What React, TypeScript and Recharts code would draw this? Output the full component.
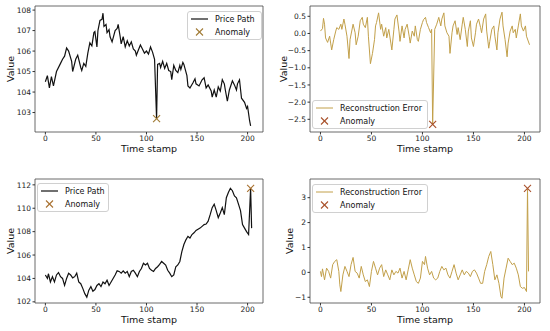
import React from 'react';
import { ComposedChart, Line, Scatter, XAxis, YAxis, ReferenceArea, Legend, Label } from 'recharts';

const timeTicks = [0, 50, 100, 150, 200];
const timeDomain: [number, number] = [-10.25, 215.25];

// top left: price path (drop anomaly)
const timeA = [0, 2, 4, 6, 8, 11, 15, 17, 19, 21,
  23, 26, 27, 30, 32, 35, 36, 38, 40, 42,
  44, 46, 48, 49, 51, 52, 54, 56, 57, 58,
  60, 61, 63, 64, 66, 69, 71, 72, 74, 75,
  77, 79, 81, 83, 85, 87, 89, 90, 92, 94,
  96, 98, 100, 102, 104, 106, 108, 110, 111, 113,
  114, 116, 118, 120, 122, 124, 125, 127, 129, 131,
  133, 134, 136, 137, 140, 141, 143, 146, 148, 149,
  152, 155, 157, 159, 161, 164, 165, 167, 169, 171,
  173, 175, 177, 178, 180, 182, 185, 187, 189, 190,
  192, 194, 197, 199, 200, 202, 203];
const priceA = [104.5, 104.8, 104.2, 104.75, 104.3, 105.0, 105.4, 105.6, 105.75, 106.15,
  106.0, 105.5, 105.0, 105.6, 105.8, 105.2, 105.05, 105.4, 105.25, 105.9,
  106.4, 106.25, 106.9, 106.95, 106.2, 107.0, 107.5, 107.55, 107.85, 107.2,
  107.3, 106.9, 107.05, 106.7, 106.45, 107.0, 107.1, 107.3, 106.7, 106.35,
  106.7, 106.2, 106.5, 106.25, 106.45, 106.1, 106.0, 105.8, 106.05, 106.3,
  106.1, 105.9, 106.0, 105.85, 106.2, 105.95, 105.6, 102.7, 105.35, 105.4,
  105.2, 105.5, 105.15, 105.4, 105.05, 105.0, 104.6, 105.3, 105.05, 104.95,
  105.3, 105.1, 105.45, 105.35, 104.8, 104.3, 104.2, 104.45, 104.65, 104.4,
  104.3, 104.6, 104.7, 104.2, 104.35, 104.05, 103.75, 104.1, 103.75, 104.25,
  104.05, 104.6, 104.4, 104.1, 103.55, 104.1, 104.55, 104.35, 104.1, 104.4,
  104.6, 103.7, 103.5, 103.2, 103.3, 102.6, 102.35];
const anomalyA = [{ t: 110, v: 102.7 }];
const yTicksA = [103, 104, 105, 106, 107, 108];

// top right: reconstruction error
const timeB = [0, 2, 3, 4, 5, 7, 9, 10, 11, 13,
  15, 16, 18, 20, 21, 23, 24, 26, 28, 29,
  32, 34, 35, 37, 39, 41, 42, 44, 46, 47,
  49, 51, 53, 54, 55, 57, 59, 60, 62, 64,
  65, 67, 69, 70, 72, 73, 75, 77, 78, 80,
  82, 83, 85, 87, 88, 90, 92, 93, 95, 96,
  98, 100, 101, 103, 104, 106, 108, 109, 110, 112,
  114, 116, 118, 119, 121, 122, 124, 126, 127, 129,
  130, 132, 134, 135, 137, 139, 140, 142, 144, 145,
  147, 148, 150, 152, 153, 155, 157, 158, 160, 162,
  163, 165, 166, 168, 170, 171, 173, 174, 176, 178,
  179, 181, 183, 184, 186, 188, 189, 191, 192, 194,
  196, 197, 199, 201, 202, 205];
const errorB = [0.07, 0.14, 0.44, 0.27, -0.13, -0.26, -0.08, -0.28, -0.48, -0.18,
  0.07, 0.17, 0.12, 0.27, 0.12, 0.42, 0.27, -0.08, -0.73, -0.18,
  0.27, 0.02, -0.33, -0.08, 0.37, 0.47, 0.27, 0.17, 0.47, -0.08,
  -0.88, -0.58, -0.18, 0.22, 0.32, 0.6, 0.12, 0.27, -0.08, 0.17,
  -0.13, 0.12, -0.28, -0.48, 0.12, 0.42, 0.54, 0.07, -0.23, 0.22,
  -0.13, 0.12, 0.27, -0.08, -0.28, 0.07, -0.08, 0.22, -0.18, -0.23,
  0.12, 0.32, 0.4, 0.47, 0.32, 0.17, 0.02, 0.12, -2.65, 0.12,
  0.27, 0.47, 0.22, 0.42, 0.6, 0.22, 0.02, -0.08, -0.58, 0.02,
  0.22, 0.37, -0.03, 0.17, -0.18, 0.27, 0.47, 0.12, -0.38, 0.07,
  0.37, -0.13, -0.38, 0.02, 0.27, 0.42, 0.17, 0.02, 0.42, 0.57,
  0.07, -0.43, -0.23, 0.12, 0.22, -0.08, -0.48, 0.02, 0.42, 0.62,
  0.22, -0.18, -0.68, -0.28, 0.07, 0.22, 0.02, 0.12, -0.13, 0.22,
  0.57, 0.22, 0.07, 0.22, -0.08, -0.33];
const anomalyB = [{ t: 110, v: -2.65 }];
const yTicksB = [-2.5, -2, -1.5, -1, -0.5, 0, 0.5];

// bottom left: price path (spike anomaly at the end)
const timeC = [0, 2, 3, 5, 7, 9, 11, 13, 15, 17,
  19, 21, 23, 25, 27, 29, 31, 33, 35, 37,
  39, 41, 43, 45, 47, 49, 51, 53, 55, 57,
  59, 61, 63, 65, 67, 69, 71, 73, 75, 77,
  79, 81, 83, 85, 87, 89, 91, 93, 95, 97,
  99, 101, 103, 105, 107, 109, 111, 113, 115, 117,
  119, 121, 123, 125, 127, 129, 131, 133, 135, 137,
  139, 141, 143, 145, 147, 149, 151, 153, 155, 157,
  159, 161, 163, 165, 167, 169, 171, 173, 175, 177,
  179, 181, 183, 185, 187, 189, 191, 193, 195, 197,
  199, 201, 203, 204];
const priceC = [104.29, 104.0, 104.4, 103.7, 104.15, 103.7, 104.3, 104.5, 104.15, 104.0,
  103.4, 104.0, 104.45, 104.3, 104.05, 104.15, 104.45, 103.7, 103.55, 103.15,
  102.7, 102.4, 103.0, 103.3, 102.9, 103.05, 103.4, 103.55, 103.3, 103.7,
  103.55, 103.85, 103.4, 103.7, 104.0, 104.3, 104.65, 104.6, 104.45, 104.65,
  104.45, 104.6, 104.15, 104.6, 104.7, 104.45, 104.15, 104.6, 104.85, 105.3,
  105.15, 105.3, 104.85, 104.7, 104.6, 104.85, 105.0, 105.2, 105.45, 105.3,
  105.15, 104.7, 104.45, 104.15, 104.3, 105.0, 105.15, 105.45, 106.3, 106.9,
  107.3, 107.6, 107.45, 107.75, 107.9, 108.1, 108.2, 108.3, 108.45, 108.6,
  108.65, 108.9, 109.45, 110.05, 110.35, 109.8, 109.2, 109.6, 110.05, 109.45,
  110.9, 111.35, 111.7, 111.5, 111.05, 110.9, 110.35, 109.8, 108.6, 108.3,
  108.0, 107.75, 111.7, 108.3];
const anomalyC = [{ t: 203, v: 111.7 }];
const yTicksC = [102, 104, 106, 108, 110, 112];

// bottom right: reconstruction error
const timeD = [0, 1, 2, 4, 6, 8, 10, 12, 14, 16,
  18, 19, 20, 22, 24, 26, 28, 30, 32, 34,
  36, 38, 40, 42, 44, 46, 48, 50, 52, 54,
  56, 58, 60, 62, 64, 66, 68, 70, 72, 74,
  76, 78, 80, 82, 84, 86, 88, 90, 92, 94,
  96, 98, 100, 102, 103, 105, 107, 109, 111, 113,
  115, 117, 119, 121, 123, 125, 127, 129, 131, 133,
  135, 137, 139, 141, 143, 145, 147, 149, 151, 153,
  155, 157, 159, 161, 163, 165, 167, 169, 171, 173,
  175, 177, 178, 180, 182, 184, 186, 188, 190, 192,
  194, 196, 198, 200, 202, 203, 204];
const errorD = [0.04, -0.17, 0.14, -0.3, 0.17, 0.04, -0.23, 0.31, 0.44, 0.51,
  0.04, -0.5, -0.77, -0.1, 0.24, 0.04, -0.17, 0.31, 0.6, 0.04,
  -0.03, -0.23, 0.24, -0.1, -0.37, -0.3, -0.57, 0.04, 0.44, 0.17,
  -0.1, 0.17, 0.31, -0.17, 0.1, -0.1, -0.3, 0.1, -0.1, 0.04,
  -0.03, 0.17, -0.23, 0.04, -0.3, 0.1, 0.51, 0.17, -0.1, -0.37,
  -0.44, -0.23, 0.44, 0.31, 0.64, 0.17, -0.1, 0.04, -0.23, -0.3,
  -0.23, 0.04, 0.24, 0.1, 0.17, -0.1, -0.23, 0.04, 0.31, -0.03,
  -0.3, -0.1, 0.1, -0.1, 0.04, -0.03, -0.17, 0.04, 0.1, -0.03,
  -0.23, -0.44, -0.44, 0.04, 0.31, 0.64, 0.84, 0.31, -0.3, -0.1,
  -0.44, -0.98, -1.04, -0.23, 0.17, 0.57, 0.44, 0.31, 0.37, 0.17,
  -0.1, -0.57, -0.64, -0.61, -0.77, 3.37, 0.04];
const anomalyD = [{ t: 203, v: 3.37 }];
const yTicksD = [-1, 0, 1, 2, 3];

const zip = (ts: number[], vs: number[]) =>
  ts.slice(0, Math.min(ts.length, vs.length)).map((t, i) => ({ t, v: vs[i] }));

const PRICE = '#111111';
const ERROR = '#c2a04a';
const FONT = '"DejaVu Sans", Verdana, sans-serif';

const minus = (s: string) => s.replace('-', '\u2212');

const XMark = ({ cx, cy, color, r = 3.5 }: { cx: number; cy: number; color: string; r?: number }) => (
  <g stroke={color} strokeWidth={1.1}>
    <line x1={cx - r} y1={cy - r} x2={cx + r} y2={cy + r} />
    <line x1={cx - r} y1={cy + r} x2={cx + r} y2={cy - r} />
  </g>
);

const LegendBox = ({ w, name, color, width, marker }: any) => (
  <svg width={w} height={29} style={{ display: 'block' }}>
    <rect x={0.5} y={0.5} width={w - 1} height={28} rx={2.5} fill="#fff" fillOpacity={0.85} stroke="#d0d0d0" />
    <line x1={4} x2={21} y1={8} y2={8} stroke={color} strokeWidth={width} />
    <XMark cx={12.5} cy={21} color={marker} />
    <text x={28} y={8} dominantBaseline="central" fontSize={8} fill="#111">{name}</text>
    <text x={28} y={21} dominantBaseline="central" fontSize={8} fill="#111">Anomaly</text>
  </svg>
);

interface PanelProps {
  left: number;
  top: number;
  height: number;
  mTop: number;
  mRight: number;
  xAxisH: number;
  data: { t: number; v: number }[];
  anomaly: { t: number; v: number }[];
  yDomain: [number, number];
  yTicks: number[];
  decimals: number;
  color: string;
  lineWidth: number;
  marker: string;
  name: string;
  legend: { x: number; y: number; w: number };
  yLabelX: number;
}

const Panel: React.FC<PanelProps> = (p) => {
  const W = 275;
  const plotW = W - 35 - p.mRight;
  const plotH = p.height - p.mTop - p.xAxisH;
  return (
    <div style={{ position: 'absolute', left: p.left, top: p.top }}>
      <ComposedChart width={W} height={p.height} data={p.data}
        margin={{ top: p.mTop, right: p.mRight, bottom: 0, left: 0 }}>
        <XAxis type="number" dataKey="t" domain={timeDomain} ticks={timeTicks} allowDataOverflow
          height={p.xAxisH} axisLine={false} tickSize={2.5} tickMargin={1}
          tickLine={{ stroke: '#333' }} tick={{ fontSize: 7.5, fill: '#222' }}>
          <Label content={() => (
            <text x={35 + plotW / 2} y={p.mTop + plotH + 16} textAnchor="middle" dominantBaseline="central"
              fontSize={9.5} fill="#111">Time stamp</text>
          )} />
        </XAxis>
        <YAxis type="number" domain={p.yDomain} ticks={p.yTicks} allowDataOverflow width={35}
          axisLine={false} tickSize={2.5} tickMargin={1.5} tickLine={{ stroke: '#333' }}
          tick={{ fontSize: 7.5, fill: '#222' }}
          tickFormatter={(v: number) => minus(v.toFixed(p.decimals))}>
          <Label content={() => {
            const cy = p.mTop + plotH / 2;
            return (
              <text x={p.yLabelX} y={cy} transform={`rotate(-90, ${p.yLabelX}, ${cy})`} textAnchor="middle"
                dominantBaseline="central" fontSize={9.5} fill="#111">Value</text>
            );
          }} />
        </YAxis>
        <Line type="linear" dataKey="v" stroke={p.color} strokeWidth={p.lineWidth} dot={false}
          isAnimationActive={false} />
        <Scatter data={p.anomaly} dataKey="v" isAnimationActive={false}
          shape={(s: any) => <XMark cx={s.cx} cy={s.cy} color={p.marker} />} />
        <ReferenceArea x1={timeDomain[0]} x2={timeDomain[1]} y1={p.yDomain[0]} y2={p.yDomain[1]}
          fill="#fff" fillOpacity={0} stroke="#444" strokeWidth={0.8} ifOverflow="visible" />
        <Legend layout="horizontal" verticalAlign="middle" align="center"
          wrapperStyle={{ position: 'absolute', left: p.legend.x, top: p.legend.y, width: p.legend.w, height: 29 }}
          content={() => <LegendBox w={p.legend.w} name={p.name} color={p.color} width={p.lineWidth} marker={p.marker} />} />
      </ComposedChart>
    </div>
  );
};

export default function App() {
  return (
    <div style={{ position: 'absolute', left: 0, top: 0, width: 550, height: 331, background: '#fff', fontFamily: FONT }}>
      <Panel left={0} top={0} height={165} mTop={6} mRight={12} xAxisH={33}
        data={zip(timeA, priceA)} anomaly={anomalyA} yDomain={[102.05, 108.2]} yTicks={yTicksA} decimals={0}
        color={PRICE} lineWidth={1.2} marker="#a07a34" name="Price Path" legend={{ x: 187, y: 11, w: 75 }} yLabelX={10} />
      <Panel left={275} top={0} height={165} mTop={6} mRight={10} xAxisH={33}
        data={zip(timeB, errorB)} anomaly={anomalyB} yDomain={[-2.87, 0.8]} yTicks={yTicksB} decimals={1}
        color={ERROR} lineWidth={1} marker="#a8502a" name="Reconstruction Error" legend={{ x: 37, y: 100, w: 116 }} yLabelX={8} />
      <Panel left={0} top={165} height={166} mTop={14} mRight={12} xAxisH={28}
        data={zip(timeC, priceC)} anomaly={anomalyC} yDomain={[101.9, 112.5]} yTicks={yTicksC} decimals={0}
        color={PRICE} lineWidth={1.2} marker="#a8702e" name="Price Path" legend={{ x: 37, y: 18, w: 72 }} yLabelX={10} />
      <Panel left={275} top={165} height={166} mTop={14} mRight={10} xAxisH={28}
        data={zip(timeD, errorD)} anomaly={anomalyD} yDomain={[-1.23, 3.75]} yTicks={yTicksD} decimals={0}
        color={ERROR} lineWidth={1} marker="#a8502a" name="Reconstruction Error" legend={{ x: 37, y: 19, w: 116 }} yLabelX={14} />
    </div>
  );
}
